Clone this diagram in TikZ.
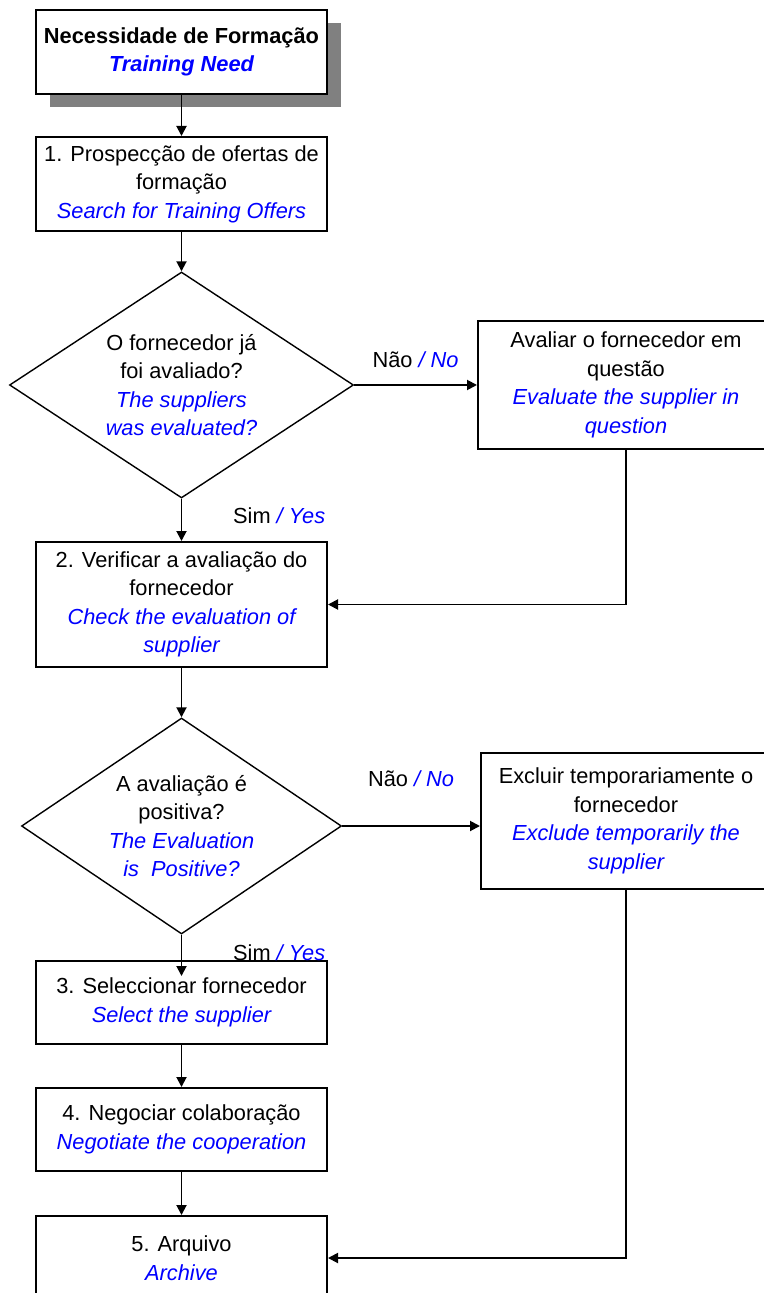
\documentclass[tikz,border=0pt]{standalone}
\usepackage{fontspec}
\setmainfont{Liberation Sans}
\usetikzlibrary{positioning, shapes.geometric, arrows.meta, shadows}

\newcommand{\eng}[1]{\textcolor{blue}{\itshape #1}}

\tikzset{
  stepbox/.style={draw, line width=1pt, rectangle, align=center, inner sep=2pt, minimum width=145.5pt},
  decision/.style={draw, line width=0.7pt, diamond, aspect=1.5, align=center, inner sep=0pt},
  flow/.style={line width=0.95pt, -{Triangle[length=5pt,width=5pt]}}
}

\begin{document}
\begin{tikzpicture}[x=0.5pt, y=-0.5pt, font=\fontsize{10.9}{14.25}\selectfont]
        \useasboundingbox (0,0) rectangle (764,1293);

        \node[stepbox, fill=white, minimum height=42pt,
              general shadow={fill=black!50, shadow xshift=7pt, shadow yshift=-6.5pt}]
              (need) at (181.5,52) {\textbf{Necessidade de Formação}\\\eng{\bfseries Training Need}};
        \node[stepbox, minimum height=47pt] (s1) at (181.5,184)
              {1. Prospecção de ofertas de\\formação\\\eng{Search for Training Offers}};
        \node[decision, minimum width=172pt, minimum height=113pt] (d1) at (181.5,385)
              {O fornecedor já\\foi avaliado?\\\eng{The suppliers}\\\eng{was evaluated?}};
        \node[stepbox, minimum width=148pt, minimum height=64pt] (eval) at (626,385)
              {Avaliar o fornecedor em\\questão\\\eng{Evaluate the supplier in}\\\eng{question}};
        \node[stepbox, minimum height=62.5pt] (s2) at (181.5,604.5)
              {2. Verificar a avaliação do\\fornecedor\\\eng{Check the evaluation of}\\\eng{supplier}};
        \node[decision, minimum width=160pt, minimum height=108pt] (d2) at (181.5,826)
              {A avaliação é\\positiva?\\\eng{The Evaluation}\\\eng{is\ \ Positive?}};
        \node[stepbox, minimum width=145pt, minimum height=68pt] (excl) at (626,821)
              {Excluir temporariamente o\\fornecedor\\\eng{Exclude temporarily the}\\\eng{supplier}};
        \node[stepbox, minimum height=41.5pt] (s3) at (181.5,1002.5)
              {3. Seleccionar fornecedor\\\eng{Select the supplier}};
        \node[stepbox, minimum height=41.5pt] (s4) at (181.5,1129.5)
              {4. Negociar colaboração\\\eng{Negotiate the cooperation}};
        \node[stepbox, minimum height=42pt] (s5) at (181.5,1258)
              {5. Arquivo\\\eng{Archive}};

        % main flow
        \draw[flow] (need) -- (s1);
        \draw[flow] (s1) -- (d1);
        \draw[flow] (d1.east) -- node[above=5pt] {Não \eng{/ No}} (eval.west);
        \draw[flow] (d1.south) -- node[pos=0.4, right=22pt] {Sim \eng{/ Yes}} (s2.north);
        \draw[flow] (eval.south) |- (s2.east);
        \draw[flow] (s2) -- (d2);
        \draw[flow] (d2.east) -- node[above=16pt] {Não \eng{/ No}} (d2.east -| excl.west);
        \draw[flow, shorten >=-8pt] (d2.south) -- node[pos=0.7, right=22pt] {Sim \eng{/ Yes}} (s3.north);
        \draw[flow] (s3) -- (s4);
        \draw[flow] (s4) -- (s5);
        \draw[flow] (excl.south) |- (s5.east);
      \end{tikzpicture}
\end{document}
